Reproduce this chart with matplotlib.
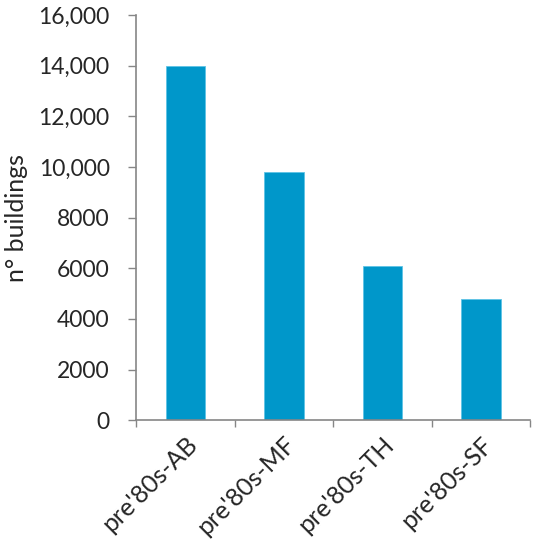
import matplotlib.pyplot as plt
from matplotlib.ticker import FuncFormatter, FixedLocator

categories = ["pre'80s-AB", "pre'80s-MF", "pre'80s-TH", "pre'80s-SF"]
buildings = [14000, 9800, 6100, 4800]
y_ticks = [0, 2000, 4000, 6000, 8000, 10000, 12000, 14000, 16000]

plt.rcParams['font.family'] = ['Lato', 'DejaVu Sans']
axis_gray = '#868686'
text_color = '#262626'


def excel_fmt(v, pos):
    # Excel-style: thousands separator only from 10,000 up
    v = int(round(v))
    if v >= 10000:
        return '{:,}'.format(v)
    return str(v)


fig = plt.figure(figsize=(5.42, 5.50), dpi=100)
ax = fig.add_axes([0.251, 0.236, 0.727, 0.737])

x = range(len(categories))
ax.bar(x, buildings, width=0.4, color='#0097CA', edgecolor='#5ec3e6', linewidth=0.6)

ax.set_xlim(-0.5, len(categories) - 0.5)
ax.set_ylim(0, 16000)
ax.set_yticks(y_ticks)
ax.yaxis.set_major_formatter(FuncFormatter(excel_fmt))

# category labels at centres, tick marks at boundaries
ax.set_xticks(list(x))
ax.set_xticklabels(categories, rotation=45, ha='right', rotation_mode='anchor')
ax.xaxis.set_minor_locator(FixedLocator([i - 0.5 for i in range(len(categories) + 1)]))
ax.tick_params(axis='x', which='major', length=0, pad=9, labelsize=18, labelcolor=text_color)
ax.tick_params(axis='x', which='minor', length=5, width=1, color=axis_gray, direction='out')
ax.tick_params(axis='y', length=6, width=1, color=axis_gray, pad=13, labelsize=16.5,
               labelcolor=text_color)

for side in ['top', 'right']:
    ax.spines[side].set_visible(False)
for side in ['left', 'bottom']:
    ax.spines[side].set_color(axis_gray)
    ax.spines[side].set_linewidth(1.2)

ax.set_ylabel('n° buildings', fontsize=18, color=text_color)
ax.yaxis.set_label_coords(-0.275, 0.5)

fig.savefig('out.png', dpi=100)
